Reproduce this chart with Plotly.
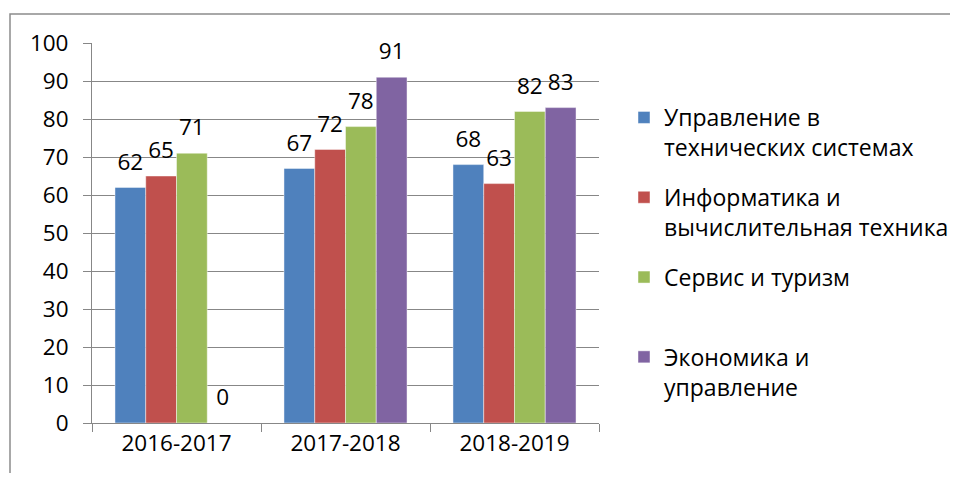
import plotly.graph_objects as go

years = ["2016-2017", "2017-2018", "2018-2019"]
series_names = [
    "Управление в<br>технических системах",
    "Информатика и<br>вычислительная техника",
    "Сервис и туризм<br> ",
    "Экономика и<br>управление",
]
upravlenie = [62, 67, 68]
informatika = [65, 72, 63]
servis = [71, 78, 82]
ekonomika = [0, 91, 83]
series_values = [upravlenie, informatika, servis, ekonomika]
colors = ["#4F81BD", "#C0504D", "#9BBB59", "#8064A2"]
y_ticks = [0, 10, 20, 30, 40, 50, 60, 70, 80, 90, 100]

FONT = "Open Sans"
FS = 22.5
LFS = 23
GRID = "#878787"

# page has an 8px body margin; figure is drawn offset by (8, 8)
OFF = 8
W, H = 942, 465
L, T = 84, 35
pw, ph = 507, 380
R = W - L - pw
B = H - T - ph

fig = go.Figure()
for i, (name, vals, col) in enumerate(zip(series_names, series_values, colors)):
    fig.add_trace(go.Bar(
        x=years, y=vals, name=name, legendgroup=f"g{i}",
        marker=dict(color=col, line=dict(color="rgba(255,255,255,0.45)", width=1)),
        hoverinfo="skip",
    ))
for i, (vals, col) in enumerate(zip(series_values, colors)):
    fig.add_trace(go.Scatter(
        x=years, y=vals, mode="markers+text", text=[str(v) for v in vals],
        textposition="top center", showlegend=False, hoverinfo="skip",
        marker=dict(size=18, opacity=0, color=col),
        textfont=dict(family=FONT, size=FS, color="#000000"),
        cliponaxis=False,
    ))

def px_x(p):
    return (p - OFF - L) / pw

def px_y(p):
    return (H - B - (p - OFF)) / ph

fig.add_shape(type="path", xref="paper", yref="paper",
              path=f"M {px_x(10)},{px_y(495)} L {px_x(10)},{px_y(14)} L {px_x(990)},{px_y(14)}",
              line=dict(color="#8C8C8C", width=1.5), layer="below")

fig.update_layout(
    width=W, height=H,
    margin=dict(l=L, r=R, t=T, b=B, pad=0, autoexpand=False),
    barmode="group", bargap=0.272, bargroupgap=0,
    scattermode="group", scattergap=0.272,
    plot_bgcolor="white", paper_bgcolor="white",
    font=dict(family=FONT, size=FS, color="#000000"),
    showlegend=True,
    legend=dict(
        x=px_x(624), y=px_y(96), xanchor="left", yanchor="top",
        valign="top", tracegroupgap=17, traceorder="grouped",
        font=dict(family=FONT, size=LFS, color="#000000"),
        bgcolor="rgba(0,0,0,0)", itemclick=False, itemdoubleclick=False,
    ),
    xaxis=dict(
        type="category", showgrid=False, showline=True, linecolor=GRID, linewidth=1,
        ticks="outside", tickson="boundaries", ticklen=8, tickcolor=GRID, tickwidth=1,
        tickfont=dict(family=FONT, size=FS, color="#000000"), zeroline=False,
        automargin=False,
    ),
    yaxis=dict(
        range=[0, 100], tickvals=y_ticks, showgrid=True, gridcolor=GRID, gridwidth=1,
        showline=True, linecolor=GRID, linewidth=1, zeroline=False,
        ticks="outside", ticklen=8, tickcolor=GRID, tickwidth=1,
        ticklabelstandoff=10, automargin=False,
        tickfont=dict(family=FONT, size=FS, color="#000000"),
    ),
)

fig.write_html("out.html", config={"displayModeBar": False})
